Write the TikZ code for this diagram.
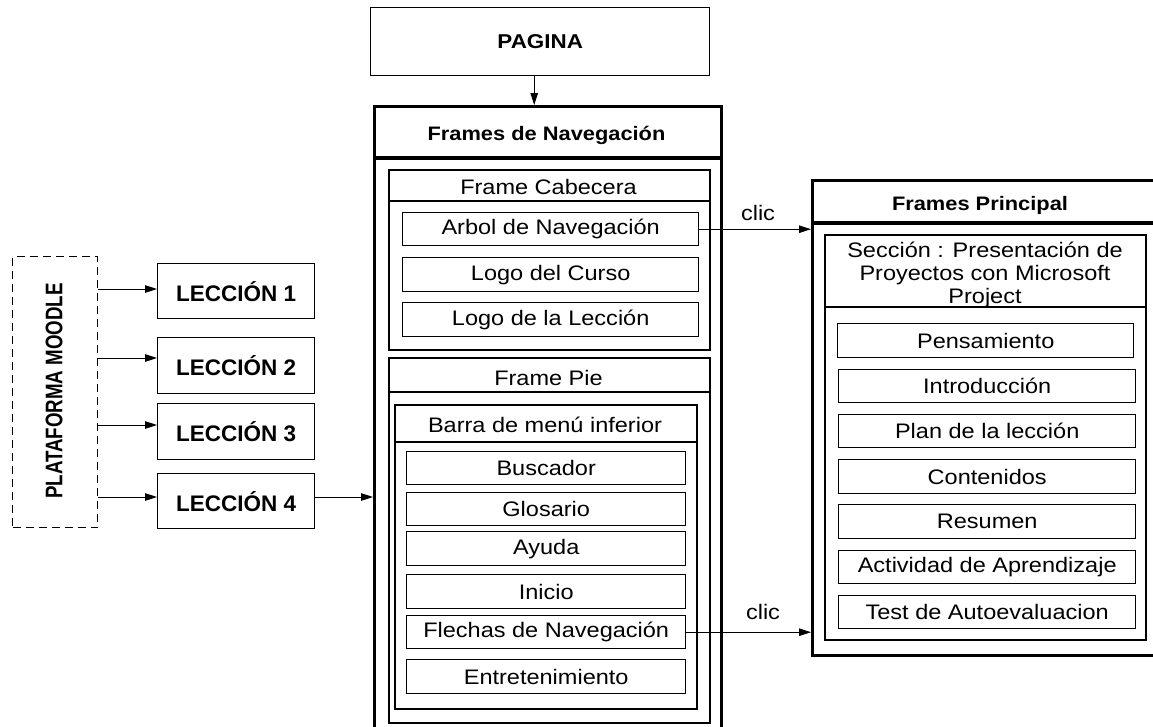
\documentclass[tikz,border=0pt]{standalone}
\usepackage{fontspec}
\setmainfont{Liberation Sans}[FakeStretch=1.12]
\newfontfamily\lecfont{Liberation Sans}
\newfontfamily\vertfont{Liberation Sans}[FakeStretch=0.78]
\usetikzlibrary{arrows.meta}

% box from (x1,y1) to (x2,y2), y measured downwards
\newcommand\rbox[7]{%
  \node[#6, minimum width={(#4-#2)*1pt}, minimum height={(#5-#3)*1pt},
        anchor=north west, inner sep=0pt] (#1) at (#2,#3) {#7};}

\tikzset{
  thickframe/.style={draw, line width=3.4pt},
  midframe/.style={draw, line width=1.9pt},
  item/.style={draw, line width=1.4pt, font=\fontsize{21}{23}\selectfont},
  lesson/.style={draw, line width=1.4pt, font=\lecfont\bfseries\fontsize{22.5}{25}\selectfont},
  title/.style={font=\bfseries\fontsize{19.5}{22}\selectfont},
  label/.style={font=\fontsize{21}{23}\selectfont},
  arr/.style={line width=0.9pt, -{Triangle[length=12pt,width=7.5pt]}},
}

\begin{document}
\begin{tikzpicture}[x=1pt, y=-1pt]
\useasboundingbox (0,0) rectangle (1153,726);
\clip (0,0) rectangle (1153,726);
\fill[white] (0,0) rectangle (1153,726);

% ---------- page ----------
\rbox{pag}{370}{7}{709}{75}{draw, line width=1.4pt, font=\bfseries\fontsize{20}{22}\selectfont}{PAGINA}

% ---------- navigation frames ----------
\rbox{nav}{373}{105}{720}{770}{thickframe}{}
\draw[line width=3.4pt] (nav.west |- 0,158) -- (nav.east |- 0,158);
\node[title] (navt) at (546.5,135) {Frames de Navegación};

% header frame
\rbox{cab}{388}{169}{709}{349}{midframe}{}
\draw[line width=1.9pt] (cab.west |- 0,201) -- (cab.east |- 0,201);
\node[label] (cabt) at (548.5,187) {Frame Cabecera};
\rbox{arbol}{402}{212}{698}{245}{item}{Arbol de Navegación}
\rbox{logoc}{402}{257}{698}{291}{item}{Logo del Curso}
\rbox{logol}{402}{302}{698}{336}{item}{Logo de la Lección}

% footer frame
\rbox{pie}{388}{357}{709}{722}{midframe}{}
\draw[line width=1.9pt] (pie.west |- 0,392) -- (pie.east |- 0,392);
\node[label] (piet) at (548.5,378) {Frame Pie};
\rbox{barra}{394}{404}{696}{708}{midframe}{}
\draw[line width=1.9pt] (barra.west |- 0,442) -- (barra.east |- 0,442);
\node[label] (barrat) at (545,425) {Barra de menú inferior};
\rbox{busc}{406}{451}{685}{484}{item}{Buscador}
\rbox{glos}{406}{492}{685}{525}{item}{Glosario}
\rbox{ayuda}{406}{531}{685}{565}{item}{Ayuda}
\rbox{inicio}{406}{574}{685}{608}{item}{Inicio}
\rbox{flechas}{406}{615}{685}{648}{item}{Flechas de Navegación}
\rbox{entret}{406}{659}{685}{693}{item}{Entretenimiento}

% ---------- main frames ----------
\rbox{prin}{811}{179}{1170}{654}{thickframe}{}
\draw[line width=3.4pt] (prin.west |- 0,223) -- (prin.east |- 0,223);
\node[title] (print) at (980,205) {Frames Principal};
\rbox{secc}{824}{234}{1145}{639}{midframe}{}
\draw[line width=1.9pt] (secc.west |- 0,307) -- (secc.east |- 0,307);
\node[label, align=center] (secct) at (985,275) {Sección : Presentación de\\Proyectos con Microsoft\\Project};
\rbox{pens}{837}{323}{1133}{357}{item}{Pensamiento}
\rbox{intro}{838}{369}{1135}{402}{item}{Introducción}
\rbox{plan}{838}{414}{1135}{447}{item}{Plan de la lección}
\rbox{cont}{838}{459}{1135}{493}{item}{Contenidos}
\rbox{resu}{838}{504}{1135}{538}{item}{Resumen}
\rbox{activ}{838}{550}{1135}{583}{item}{Actividad de Aprendizaje}
\rbox{test}{838}{595}{1135}{628}{item}{Test de Autoevaluacion}

% ---------- platform and lessons ----------
\rbox{moodle}{12}{256}{97}{527}{draw, line width=1pt, dash pattern=on 8pt off 5pt}{}
\node[rotate=90, font=\vertfont\bfseries\fontsize{24}{26}\selectfont] (moodlet) at (54,391) {PLATAFORMA MOODLE};
\rbox{l1}{157}{263}{314}{318}{lesson}{LECCIÓN 1}
\rbox{l2}{157}{337}{314}{393}{lesson}{LECCIÓN 2}
\rbox{l3}{157}{403}{314}{459}{lesson}{LECCIÓN 3}
\rbox{l4}{157}{473}{314}{528}{lesson}{LECCIÓN 4}

% ---------- connectors ----------
\draw[arr] ([xshift=-6pt]pag.south) -- ([xshift=-6pt]pag.south |- nav.north);
\draw[arr] (moodle.east |- 0,289) -- (l1.west |- 0,289);
\draw[arr] (moodle.east |- 0,358) -- (l2.west |- 0,358);
\draw[arr] (moodle.east |- 0,425) -- (l3.west |- 0,425);
\draw[arr] (moodle.east |- 0,497) -- (l4.west |- 0,497);
\draw[arr] (l4.east |- 0,497) -- (nav.west |- 0,497);
\draw[arr] (arbol.east) -- (prin.west |- arbol.east);
\draw[arr] (flechas.east) -- (prin.west |- flechas.east);
\node[label] (clic1) at (758,213) {clic};
\node[label] (clic2) at (763,612) {clic};
\end{tikzpicture}
\end{document}
